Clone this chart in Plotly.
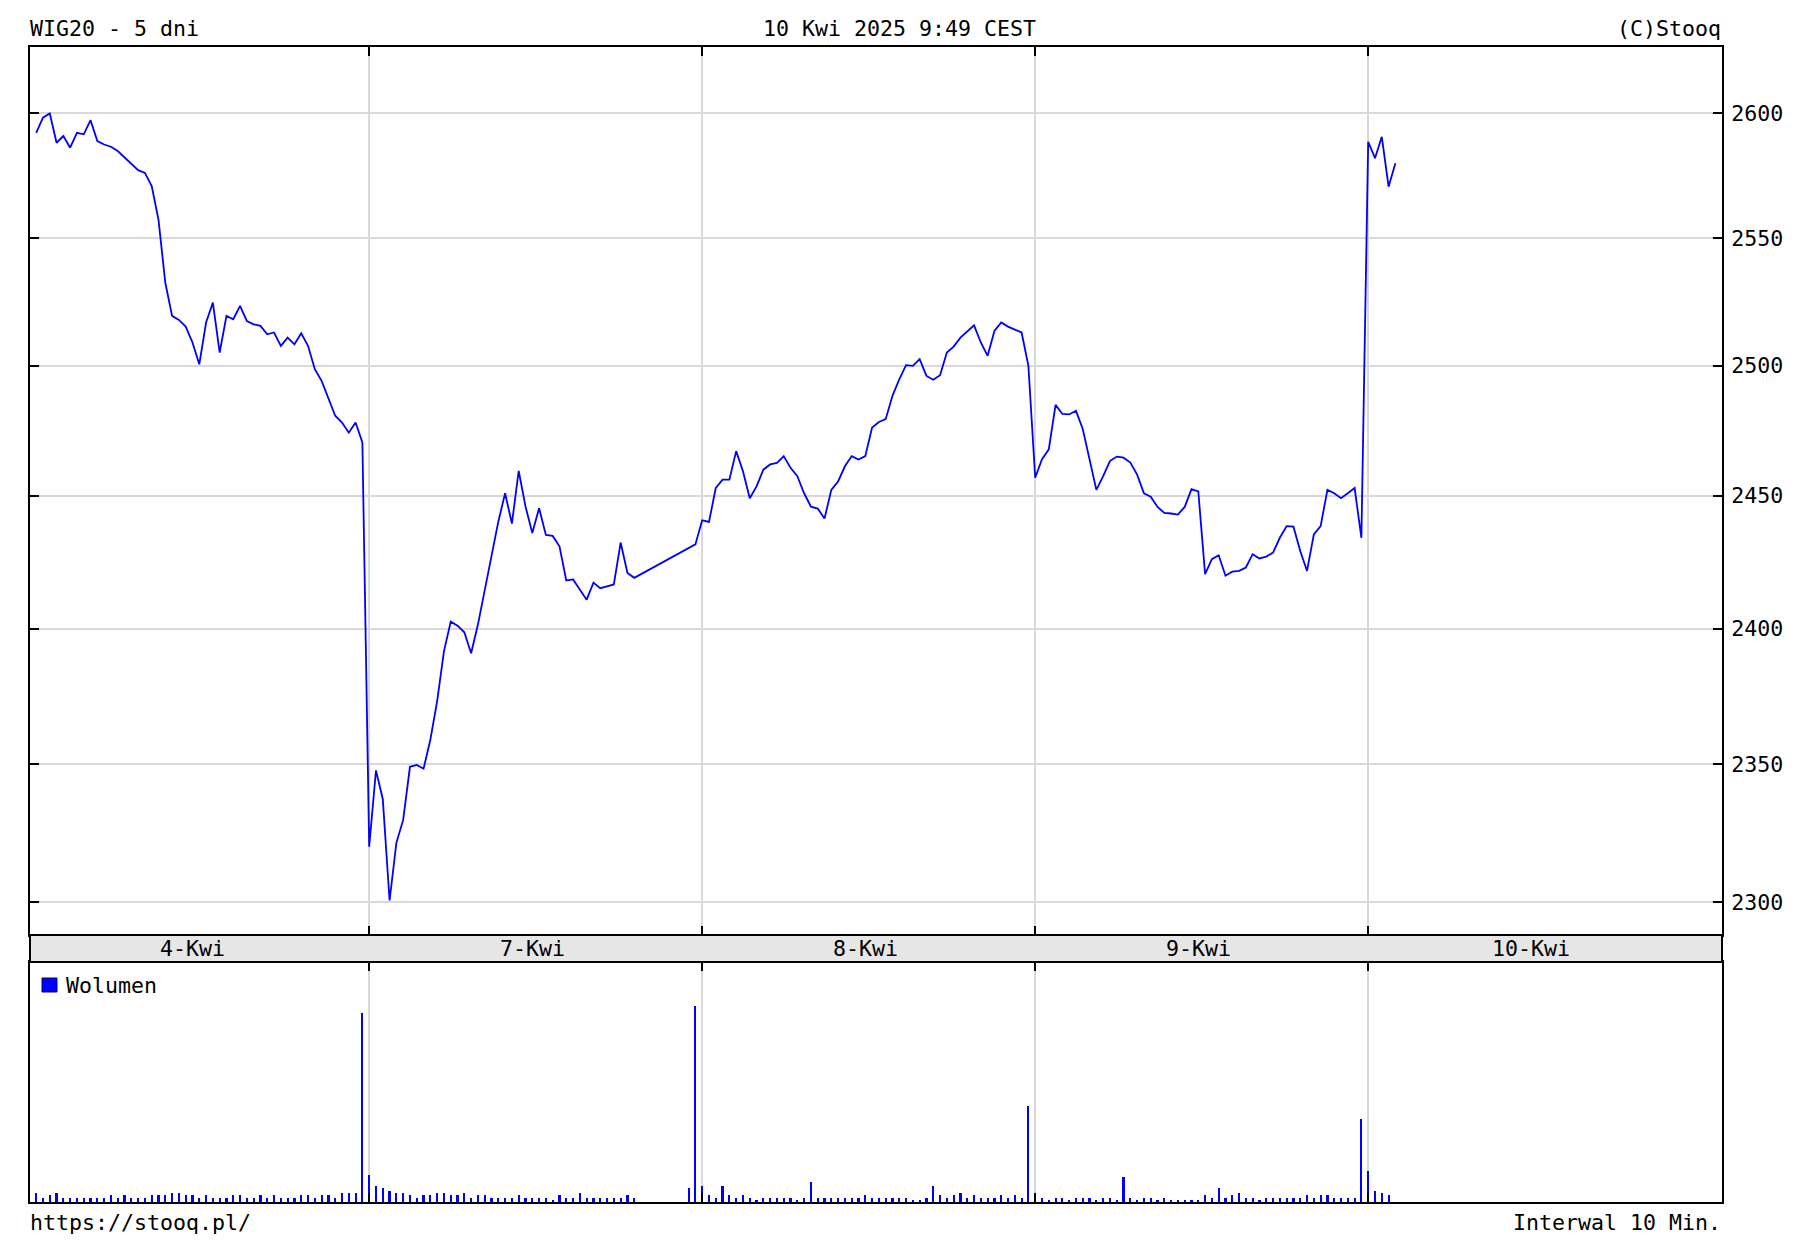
import plotly.graph_objects as go
import math

# ---------------- data ----------------
days = ["4-Kwi", "7-Kwi", "8-Kwi", "9-Kwi", "10-Kwi"]
slots_per_day = 49          # 10-minute bars 9:00 .. 17:00
label_slot = [23, 24, 24, 24, 24]
N = None

price_d4 = [2592.2, 2598.3, 2600.0, 2588.2, 2590.9, 2586.2, 2592.2, 2591.6, 2597.3, 2588.9,
            2587.5, 2586.6, 2584.9, 2582.2, 2579.5, 2577.2, 2576.1, 2570.8, 2557.4, 2532.5,
            2519.5, 2517.9, 2515.3, 2509.1, 2500.6, 2516.9, 2524.7, 2505.2, 2519.5, 2518.2,
            2523.4, 2517.5, 2516.2, 2515.6, 2512.3, 2513.0, 2507.8, 2511.0, 2508.4, 2512.7,
            2507.8, 2498.7, 2494.2, 2487.1, 2480.7, 2478.1, 2474.2, 2478.1, 2470.4]
price_d7 = [2320.0, 2347.7, 2337.3, 2300.7, 2321.4, 2329.7, 2349.0, 2349.7, 2348.3, 2358.9,
            2373.1, 2391.5, 2402.6, 2401.1, 2398.6, 2390.8, 2401.5, 2414.4, 2426.6, 2440.2,
            2451.0, 2439.5, 2459.5, 2446.0, 2435.9, 2445.3, 2435.2, 2434.8, 2430.9, 2418.0,
            2418.4, 2414.4, 2410.8, 2417.2, 2415.1, 2415.8, 2416.5, 2432.3, 2420.8, 2419.0,
            N, N, N, N, N, N, N, 2430.2, 2431.6]
price_d8 = [2440.7, 2440.1, 2453.0, 2456.2, 2456.2, 2467.1, 2459.4, 2449.1, 2453.6, 2460.0,
            2462.0, 2462.6, 2465.2, 2460.7, 2457.5, 2451.0, 2445.9, 2445.2, 2441.4, 2452.3,
            2455.5, 2461.3, 2465.2, 2463.9, 2465.2, 2476.2, 2478.3, 2479.4, 2488.4, 2494.8,
            2500.3, 2500.0, 2502.6, 2496.1, 2494.6, 2496.4, 2505.2, 2507.5, 2511.0, 2513.6,
            2515.8, 2509.1, 2503.9, 2513.6, 2516.9, 2515.3, 2514.3, 2513.0, 2500.0]
price_d9 = [2456.9, 2464.0, 2467.8, 2484.9, 2481.4, 2481.2, 2482.6, 2475.6, 2463.3, 2452.3,
            2457.5, 2463.3, 2465.0, 2464.6, 2462.7, 2458.1, 2451.0, 2449.7, 2445.8, 2443.5,
            2443.3, 2442.9, 2445.8, 2452.6, 2451.7, 2420.4, 2426.0, 2427.5, 2419.8, 2421.3,
            2421.6, 2422.9, 2427.9, 2426.3, 2427.0, 2428.5, 2434.1, 2438.5, 2438.3, 2429.1,
            2421.6, 2435.4, 2438.5, 2452.3, 2451.0, 2449.1, 2451.0, 2453.0, 2434.1]
price_d10 = [2588.6, 2582.0, 2590.6, 2570.6, 2580.0]

vol_d4 = [9, 4, 7, 9, 4, 4, 4, 4, 4, 4, 4, 7, 4, 7, 4, 4, 4, 7, 7, 7, 9, 9, 7, 7, 4,
          7, 4, 4, 4, 7, 7, 4, 4, 7, 4, 7, 4, 4, 4, 7, 7, 4, 7, 7, 4, 9, 9, 9, 189]
vol_d7 = [27, 16, 14, 11, 9, 9, 7, 4, 7, 7, 9, 9, 7, 7, 9, 4, 7, 7, 4, 4, 4, 4, 7, 4, 4,
          4, 4, 2, 7, 4, 4, 9, 4, 4, 4, 4, 4, 4, 7, 4, N, N, N, N, N, N, N, 14, 196]
vol_d8 = [16, 7, 4, 16, 7, 4, 7, 4, 2, 4, 4, 4, 4, 4, 2, 4, 20, 4, 4, 4, 4, 4, 4, 4, 7,
          4, 4, 4, 4, 4, 4, 2, 2, 4, 16, 7, 4, 7, 9, 4, 7, 4, 4, 4, 7, 4, 7, 4, 96]
vol_d9 = [9, 4, 2, 4, 4, 2, 4, 4, 4, 2, 4, 4, 2, 25, 4, 2, 4, 4, 2, 4, 2, 2, 2, 2, 2,
          7, 4, 14, 4, 7, 9, 4, 4, 2, 4, 4, 4, 4, 4, 4, 7, 4, 7, 7, 4, 4, 4, 4, 83]
vol_d10 = [31, 11, 9, 7]

price_ticks = [2300, 2350, 2400, 2450, 2500, 2550, 2600]
price_range = [2288.4, 2627.0]
vol_max = 240

title_left = "WIG20 - 5 dni"
title_mid = "10 Kwi 2025 9:49 CEST"
title_right = "(C)Stooq"
foot_left = "https://stooq.pl/"
foot_right = "Interwal 10 Min."
vol_name = "Wolumen"

# ---------------- build series ----------------
prices = [price_d4, price_d7, price_d8, price_d9, price_d10]
vols = [vol_d4, vol_d7, vol_d8, vol_d9, vol_d10]
px, py, vx, vy = [], [], [], []
for d, (p, v) in enumerate(zip(prices, vols)):
    for j, val in enumerate(p):
        px.append(d * slots_per_day + j)
        py.append(val)
    for j, val in enumerate(v):
        vx.append(d * slots_per_day + j)
        vy.append(val)
day_starts = [d * slots_per_day for d in range(1, len(days))]

# ---------------- layout geometry ----------------
W, H = 1810, 1252
ml, mr, mt, mb = 30, 88, 47, 50
ph = H - mt - mb
def py_paper(pix):
    return (H - mb - pix) / ph
def px_paper(pix):
    return (pix - ml) / (W - ml - mr)

price_bottom = 935
band_bottom = 962
price_dom = [py_paper(price_bottom), 1]
vol_dom = [0, py_paper(band_bottom)]

FONT = "DejaVu Sans Mono"
FS = 21.6
BLUE = "#0000ff"
GRID = "#d9d9d9"

fig = go.Figure()
fig.add_trace(go.Scatter(x=px, y=py, mode="lines", connectgaps=True,
                         line=dict(color=BLUE, width=1.8), showlegend=False,
                         xaxis="x", yaxis="y"))
fig.add_trace(go.Bar(x=vx, y=vy, width=0.32, marker=dict(color=BLUE, line=dict(width=0)),
                     showlegend=False, xaxis="x2", yaxis="y2"))

x_range = [-0.91, 248.06]
common_x = dict(range=x_range, tickvals=day_starts, showticklabels=False,
                ticks="inside", ticklen=9, tickwidth=2, tickcolor="black",
                showgrid=True, gridcolor=GRID, gridwidth=2, zeroline=False,
                showline=True, linecolor="black", linewidth=2, mirror="ticks")

fig.update_layout(
    width=W, height=H,
    margin=dict(l=ml, r=mr, t=mt, b=mb, pad=0),
    paper_bgcolor="white", plot_bgcolor="white",
    font=dict(family=FONT, size=FS, color="black"),
    bargap=0,
    xaxis=dict(domain=[0, 1], anchor="y", **common_x),
    yaxis=dict(domain=price_dom, anchor="x", type="log",
               range=[math.log10(price_range[0]), math.log10(price_range[1])],
               tickvals=price_ticks, ticktext=[str(t) for t in price_ticks],
               side="right", ticks="inside", ticklen=9, tickwidth=2, tickcolor="black",
               tickfont=dict(family=FONT, size=FS, color="black"),
               ticklabelstandoff=3,
               showgrid=True, gridcolor=GRID, gridwidth=2, zeroline=False,
               showline=True, linecolor="black", linewidth=2, mirror="ticks"),
    xaxis2=dict(domain=[0, 1], anchor="y2", matches="x", **common_x),
    yaxis2=dict(domain=vol_dom, anchor="x2", range=[0, vol_max],
                showticklabels=False, ticks="", showgrid=False, zeroline=False,
                showline=True, linecolor="black", linewidth=2, mirror=True),
)

# date band between panels
fig.add_shape(type="rect", xref="paper", yref="paper", x0=0, x1=1,
              y0=vol_dom[1], y1=price_dom[0], fillcolor="#e6e6e6",
              line=dict(color="black", width=2), layer="above")

ann = []
band_mid = (vol_dom[1] + price_dom[0]) / 2
for d, name in enumerate(days):
    ann.append(dict(x=d * slots_per_day + label_slot[d], y=band_mid, xref="x", yref="paper",
                    text=name, showarrow=False, xanchor="center", yanchor="middle"))

top_y = py_paper(29)
ann.append(dict(x=px_paper(28), y=top_y, xref="paper", yref="paper", text=title_left,
                showarrow=False, xanchor="left", yanchor="middle"))
ann.append(dict(x=px_paper(899), y=top_y, xref="paper", yref="paper", text=title_mid,
                showarrow=False, xanchor="center", yanchor="middle"))
ann.append(dict(x=px_paper(1723), y=top_y, xref="paper", yref="paper", text=title_right,
                showarrow=False, xanchor="right", yanchor="middle"))
bot_y = py_paper(1222)
ann.append(dict(x=px_paper(28), y=bot_y, xref="paper", yref="paper", text=foot_left,
                showarrow=False, xanchor="left", yanchor="middle"))
ann.append(dict(x=px_paper(1723), y=bot_y, xref="paper", yref="paper", text=foot_right,
                showarrow=False, xanchor="right", yanchor="middle"))
# volume legend
ann.append(dict(x=px_paper(64), y=py_paper(985), xref="paper", yref="paper", text=vol_name,
                showarrow=False, xanchor="left", yanchor="middle"))
fig.add_shape(type="rect", xref="paper", yref="paper",
              x0=px_paper(42), x1=px_paper(57), y0=py_paper(992), y1=py_paper(978),
              fillcolor=BLUE, line=dict(color="#000080", width=1))

fig.update_layout(annotations=ann)

fig.write_html("out.html", config={"displayModeBar": False},
               post_script="document.body.style.margin='0';")
